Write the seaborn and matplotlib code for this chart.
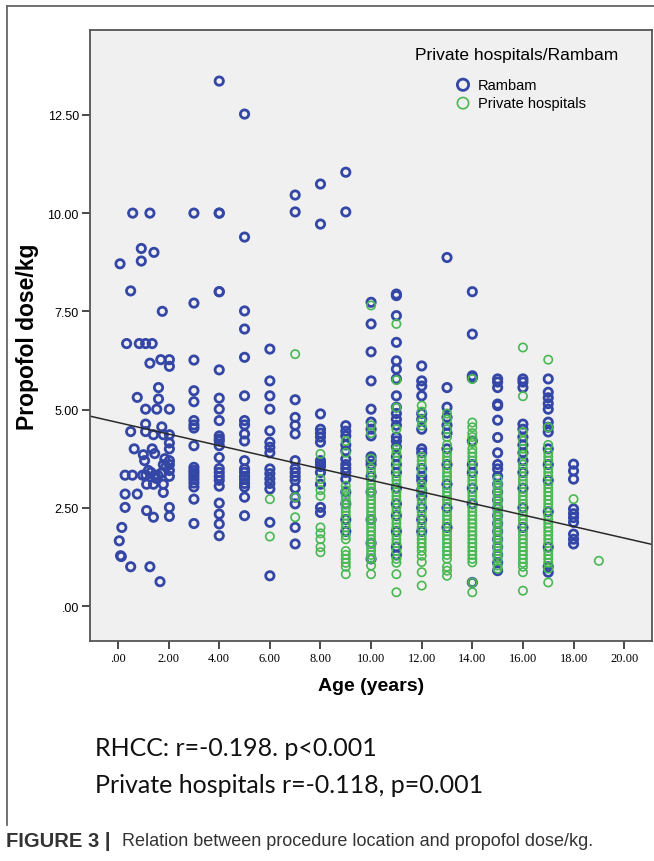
import matplotlib
matplotlib.use("Agg")
import matplotlib.pyplot as plt
import seaborn as sns
import pandas as pd
from matplotlib.lines import Line2D

# Rambam children under ~2.5 years (ages are spread, not rounded)
rambam_young_age = [0.58, 1.26, 0.92, 1.42, 0.08, 0.92, 0.50, 1.75,
                    0.34, 0.84, 1.09, 1.35, 1.26, 1.69, 2.03, 2.03,
                    1.60, 0.76, 1.60, 1.09, 1.53, 2.03,
                    0.50, 1.09, 1.09, 1.40, 1.73, 1.79, 2.03, 2.03,
                    0.64, 1.00, 1.05, 1.35, 1.45, 1.79, 2.03, 2.03, 2.03,
                    0.28, 0.57, 0.97, 1.10, 1.30, 1.45, 1.57, 1.20, 1.50, 1.70,
                    1.13, 1.40, 1.79, 2.03, 2.03, 1.90, 1.85,
                    0.28, 0.76, 1.79, 0.28, 1.13, 1.40, 2.03, 2.03,
                    0.15, 0.05, 0.10, 0.13, 0.50, 1.26, 1.66]
rambam_young_dose = [10.0, 10.0, 9.10, 9.00, 8.71, 8.78, 8.02, 7.50,
                     6.68, 6.68, 6.68, 6.68, 6.18, 6.27, 6.27, 6.10,
                     5.56, 5.31, 5.27, 5.01, 5.01, 5.01,
                     4.44, 4.63, 4.44, 4.36, 4.56, 4.36, 4.36, 4.15,
                     4.00, 3.85, 3.70, 4.00, 3.88, 3.60, 4.00, 3.70, 3.60,
                     3.33, 3.33, 3.33, 3.33, 3.40, 3.33, 3.33, 3.45, 3.25, 3.38,
                     3.10, 3.10, 3.10, 3.30, 3.45, 3.55, 3.75,
                     2.85, 2.85, 2.89, 2.51, 2.43, 2.26, 2.51, 2.28,
                     2.00, 1.66, 1.28, 1.26, 1.00, 1.00, 0.62]

# Rambam doses, grouped by whole-year age
rambam_by_age = {
    3: [10.0, 7.71, 6.26, 5.48, 5.20, 4.72, 4.61, 4.53, 4.08, 3.53, 3.45, 3.38,
        3.30, 3.22, 3.13, 3.03, 2.72, 2.10],
    4: [13.36, 10.0, 10.0, 8.0, 8.0, 6.01, 5.29, 5.01, 4.72, 4.33, 4.25, 4.20,
        4.08, 3.78, 3.50, 3.40, 3.30, 3.20, 3.05, 2.62, 2.34, 2.09, 1.79],
    5: [12.52, 9.39, 7.51, 7.05, 6.33, 5.35, 4.72, 4.61, 4.38, 4.20, 3.70, 3.49,
        3.40, 3.30, 3.22, 3.12, 3.03, 2.77, 2.30],
    6: [6.54, 5.73, 5.35, 5.01, 4.46, 4.17, 4.04, 3.90, 3.49, 3.37, 3.24, 3.12,
        2.98, 2.13, 0.77],
    7: [10.46, 10.03, 5.25, 4.80, 4.60, 4.38, 3.70, 3.50, 3.40, 3.30, 3.20, 3.00,
        2.77, 2.60, 2.00, 1.58],
    8: [10.74, 9.72, 4.89, 4.50, 4.40, 4.30, 4.17, 3.70, 3.65, 3.60, 3.55, 3.40,
        3.10, 2.51, 2.38],
    9: [11.04, 10.03, 4.59, 4.45, 4.33, 4.10, 3.95, 3.74, 3.60, 3.50, 3.40, 3.23,
        2.90, 2.60, 2.20, 1.90],
    10: [7.73, 7.18, 6.47, 5.73, 5.01, 4.68, 4.50, 4.33, 3.80, 3.70, 3.60, 3.30,
         2.90, 2.20, 1.60, 1.20],
    11: [7.94, 7.90, 7.39, 6.71, 6.24, 6.03, 5.78, 5.35, 5.06, 4.90, 4.75, 4.60,
         4.30, 4.20, 4.05, 3.80, 3.60, 3.40, 3.00, 2.60, 2.30, 1.90, 1.50, 1.30],
    12: [6.11, 5.73, 5.60, 5.35, 4.90, 4.75, 4.50, 4.00, 3.90, 3.50, 3.30, 3.20,
         2.95, 2.80, 2.50, 2.20, 1.90],
    13: [8.87, 5.56, 5.06, 4.80, 4.60, 4.40, 4.00, 3.60, 3.10, 2.50, 2.00],
    14: [8.0, 6.92, 5.86, 5.80, 4.20, 3.60, 3.40, 3.00, 2.60, 0.60],
    15: [5.78, 5.70, 5.56, 5.14, 5.10, 4.73, 4.29, 3.90, 3.60, 3.49, 3.30, 3.10,
         2.90, 2.70, 2.50, 2.30, 2.10, 1.90, 1.70, 1.50, 1.30, 1.10, 0.90],
    16: [5.78, 5.70, 5.56, 4.63, 4.50, 4.30, 4.10, 3.90, 3.70, 3.40, 3.00, 2.50, 2.00],
    17: [5.78, 5.44, 5.30, 5.15, 5.01, 4.68, 4.55, 4.43, 4.00, 3.60, 3.20, 2.40,
         1.50, 1.00, 0.86],
    18: [3.61, 3.44, 3.23, 2.47, 2.35, 2.25, 2.13, 1.83, 1.70, 1.58],
}

# Private hospital doses, grouped by whole-year age
private_by_age = {
    6: [2.72, 1.77],
    7: [6.41, 2.77, 2.26],
    8: [3.87, 3.23, 2.95, 2.80, 2.00, 1.85, 1.70, 1.50, 1.37],
    9: [4.20, 3.90, 3.06, 2.95, 2.80, 2.70, 2.60, 2.50, 2.40, 2.30, 2.10, 2.00,
        1.80, 1.70, 1.40, 1.30, 1.20, 1.10, 1.00, 0.81],
    10: [7.65, 4.60, 4.40, 3.75, 3.50, 3.40, 3.20, 3.10, 3.00, 2.90, 2.80, 2.70,
         2.60, 2.50, 2.40, 2.30, 2.20, 2.10, 2.00, 1.90, 1.80, 1.70, 1.60, 1.50,
         1.40, 1.30, 1.20, 1.03, 0.81],
    11: [7.18, 5.75, 5.05, 4.50, 4.00, 3.90, 3.70, 3.50, 3.30, 3.20, 3.10, 2.90,
         2.80, 2.70, 2.50, 2.40, 2.20, 2.10, 2.00, 1.80, 1.70, 1.60, 1.40, 1.20,
         1.10, 0.81, 0.35],
    12: [5.10, 4.95, 4.70, 4.59, 3.80, 3.70, 3.60, 3.40, 3.10, 3.00, 2.90, 2.70,
         2.60, 2.40, 2.30, 2.10, 2.00, 1.80, 1.70, 1.60, 1.50, 1.40, 1.28, 1.12,
         0.86, 0.52],
    13: [4.90, 4.75, 4.50, 4.30, 4.10, 3.90, 3.80, 3.70, 3.50, 3.40, 3.30, 3.20,
         3.00, 2.90, 2.80, 2.70, 2.60, 2.40, 2.30, 2.20, 2.10, 1.90, 1.80, 1.70,
         1.60, 1.50, 1.40, 1.30, 1.20, 1.00, 0.90, 0.77],
    14: [5.78, 4.67, 4.55, 4.40, 4.30, 4.15, 4.00, 3.90, 3.80, 3.70, 3.50, 3.30,
         3.20, 3.10, 2.90, 2.80, 2.70, 2.50, 2.40, 2.30, 2.20, 2.10, 2.00, 1.90,
         1.80, 1.70, 1.60, 1.50, 1.40, 1.30, 1.20, 1.11, 0.60, 0.35],
    15: [3.23, 3.10, 3.00, 2.90, 2.80, 2.70, 2.60, 2.50, 2.40, 2.30, 2.20, 2.10,
         2.00, 1.90, 1.80, 1.70, 1.60, 1.50, 1.40, 1.30, 1.20, 1.03, 0.95],
    16: [6.58, 5.34, 4.43, 4.20, 4.00, 3.85, 3.60, 3.50, 3.30, 3.20, 3.10, 2.90,
         2.80, 2.70, 2.60, 2.40, 2.30, 2.20, 2.10, 1.90, 1.80, 1.70, 1.60, 1.50,
         1.40, 1.30, 1.20, 1.10, 1.00, 0.86, 0.39],
    17: [6.27, 4.55, 4.10, 3.90, 3.80, 3.70, 3.50, 3.40, 3.30, 3.10, 3.00, 2.90,
         2.80, 2.70, 2.60, 2.50, 2.30, 2.20, 2.10, 2.00, 1.90, 1.80, 1.70, 1.60,
         1.40, 1.30, 1.20, 1.10, 0.95, 0.60],
    18: [2.72],
    19: [1.15],
}

# fitted line as printed in the figure
trend_intercept = 4.67
trend_slope = -0.147

x_ticks = [0, 2, 4, 6, 8, 10, 12, 14, 16, 18, 20]
x_tick_labels = [".00", "2.00", "4.00", "6.00", "8.00", "10.00", "12.00",
                 "14.00", "16.00", "18.00", "20.00"]
y_ticks = [0, 2.5, 5, 7.5, 10, 12.5]
y_tick_labels = [".00", "2.50", "5.00", "7.50", "10.00", "12.50"]

groups = ["Rambam", "Private hospitals"]
colors = {"Rambam": "#3447a6", "Private hospitals": "#49b853"}

# build one long table
rows = [(a, d, "Rambam") for a, d in zip(rambam_young_age, rambam_young_dose)]
for age, doses in rambam_by_age.items():
    rows += [(age, d, "Rambam") for d in doses]
for age, doses in private_by_age.items():
    rows += [(age, d, "Private hospitals") for d in doses]
df = pd.DataFrame(rows, columns=["age", "dose", "group"])

W, H = 654, 862
fig = plt.figure(figsize=(W / 100, H / 100), dpi=100)
fig.patch.set_facecolor("white")
ax = fig.add_axes([90 / W, 1 - 642 / H, 562 / W, 611 / H])
ax.set_facecolor("#f0f0f0")

widths = {"Rambam": 2.0, "Private hospitals": 1.2}
for g in groups:
    sns.scatterplot(data=df[df["group"] == g], x="age", y="dose", ax=ax,
                    marker="o", s=36, color=colors[g], facecolor="none",
                    edgecolor=colors[g], linewidth=widths[g], label=g)

ax.axline((0, trend_intercept), slope=trend_slope, color="#2a2a2a", lw=1.1)

ax.set_xlim(-1.107, 21.1)
ax.set_ylim(-0.89, 14.66)
ax.set_xticks(x_ticks)
ax.set_xticklabels(x_tick_labels, fontsize=9, family="Liberation Serif")
ax.set_yticks(y_ticks)
ax.set_yticklabels(y_tick_labels, fontsize=9, family="Liberation Sans")
ax.tick_params(direction="out", length=6, width=1.3, color="#3a3a3a", pad=2)
for sp in ax.spines.values():
    sp.set_color("#555555")
    sp.set_linewidth(1.3)

ax.set_xlabel("Age (years)", fontsize=14, fontweight="bold",
              family="Liberation Sans", labelpad=9)
ax.set_ylabel("Propofol dose/kg", fontsize=16.5, fontweight="bold",
              family="Liberation Sans", labelpad=6)

narrow = ["Liberation Sans Narrow", "Liberation Sans"]
leg = ax.legend(title="Private hospitals/Rambam", loc="upper center",
                bbox_to_anchor=((517 - 90) / 562, 1 - 10 / 611), frameon=False,
                handletextpad=0.0, markerscale=1.35, borderpad=0,
                labelspacing=0.3, title_fontsize=12.5,
                prop={"family": narrow, "size": 10.5})
leg.get_title().set_family(narrow)
leg._legend_box.sep = 11

# stats text under the chart
fig.text(95 / W, 1 - 749 / H, "RHCC: r=-0.198. p<0.001", fontsize=18,
         family="Lato", va="center", ha="left", color="#111111")
fig.text(95 / W, 1 - 786 / H, "Private hospitals r=-0.118, p=0.001", fontsize=18,
         family="Lato", va="center", ha="left", color="#111111")

# caption
fig.text(6 / W, 1 - 842 / H, "FIGURE 3 |", fontsize=14.5, fontweight="bold",
         family="Liberation Sans", va="center", ha="left", color="#333333")
fig.text(122 / W, 1 - 842 / H,
         "Relation between procedure location and propofol dose/kg.",
         fontsize=13, family="Liberation Sans", va="center", ha="left",
         color="#333333")

# outer frame (left and top edges only are visible)
fig.add_artist(Line2D([7 / W, 7 / W], [1 - 7 / H, 1 - 826 / H],
                      transform=fig.transFigure, color="#666666", lw=1.3))
fig.add_artist(Line2D([7 / W, 1], [1 - 7 / H, 1 - 7 / H],
                      transform=fig.transFigure, color="#666666", lw=1.3))

fig.savefig("out.png", dpi=100)
